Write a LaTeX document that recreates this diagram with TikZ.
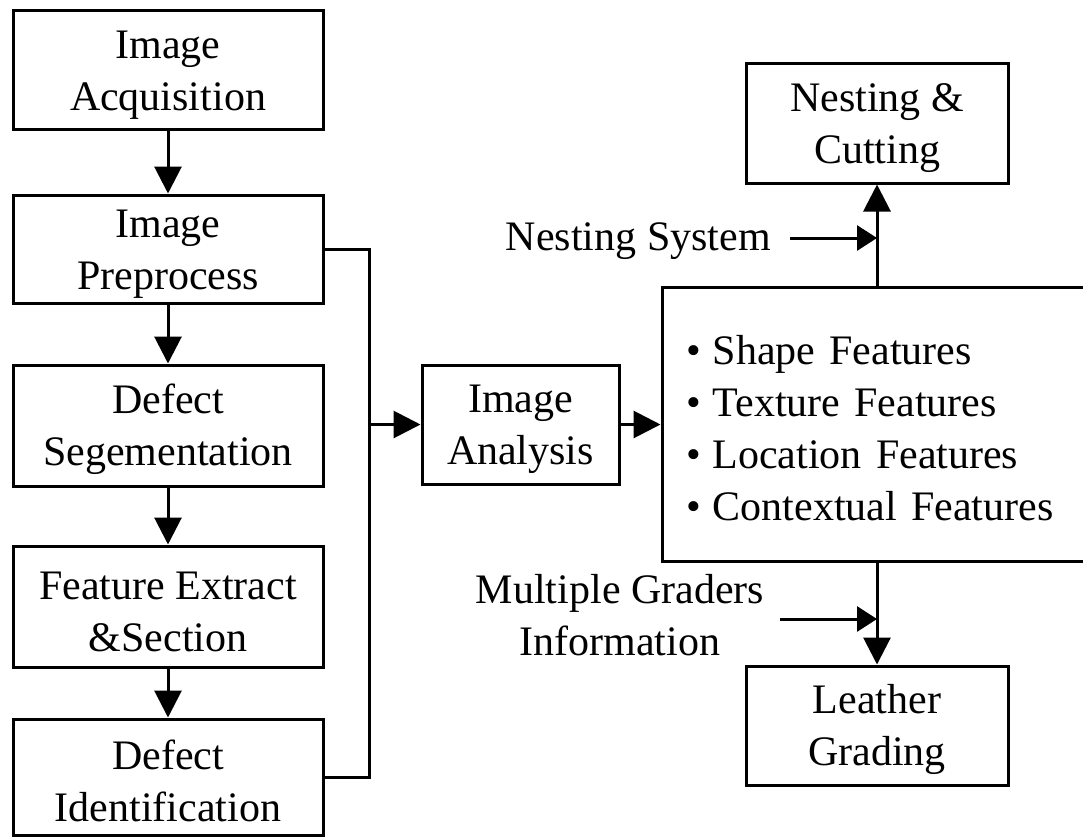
\documentclass[tikz,border=0pt]{standalone}
\usepackage{fontspec}
\setmainfont{Liberation Serif}
\usetikzlibrary{arrows.meta}
\newcommand{\uplift}{\rule{0pt}{38pt}}
\begin{document}
\begin{tikzpicture}[x=1pt,y=-1pt,
  box/.style={draw,line width=3pt,inner sep=0pt,align=center,
    font=\fontsize{42}{52}\selectfont},
  lbl/.style={inner sep=0pt,align=center,font=\fontsize{42}{52}\selectfont},
  conn/.style={line width=3pt,-{Triangle[length=27pt,width=27pt]}},
  side/.style={line width=3pt,-{Triangle[length=20pt,width=25pt]}},
  plain/.style={line width=3pt}]
\useasboundingbox (0,0) rectangle (1083,838);
% left column
\node[box,minimum width=310pt,minimum height=119pt] (acq) at (168,69.5) {\uplift Image\\Acquisition};
\node[box,minimum width=310pt,minimum height=108pt] (pre) at (168,249) {\uplift Image\\Preprocess};
\node[box,minimum width=310pt,minimum height=121pt] (seg) at (168,425.5) {\uplift Defect\\Segementation};
\node[box,minimum width=310pt,minimum height=121pt] (fea) at (168,606.5) {\uplift Feature Extract\\\&Section};
\node[box,minimum width=310pt,minimum height=116pt] (ide) at (168,777) {\uplift Defect\\Identification};
\draw[conn] (acq) -- (pre);
\draw[conn] (pre) -- (seg);
\draw[conn] (seg) -- (fea);
\draw[conn] (fea) -- (ide);
% bus
\coordinate (bt) at (369,249);
\coordinate (bb) at (369,777);
\coordinate (bm) at (369,424.5);
\draw[plain] (pre.east) -- (bt) -- (bb) -- (ide.east);
% analysis
\node[box,minimum width=197pt,minimum height=119pt] (ana) at (520.5,424.5) {\uplift Image\\Analysis};
\draw[conn] (bm) -- (ana.west);
% features
\node[box,minimum width=430pt,minimum height=274pt,align=left,text width=382pt,inner xsep=24pt] (feat) at (877,424)
  {\uplift\textbullet\hspace{12pt}Shape Features\\\textbullet\hspace{12pt}Texture Features\\\textbullet\hspace{12pt}Location Features\\\textbullet\hspace{12pt}Contextual Features};
\draw[conn] (ana.east) -- (ana.east -| feat.west);
% nesting
\node[box,minimum width=262pt,minimum height=120pt] (nc) at (877,123) {\uplift Nesting \&\\Cutting};
\draw[conn] (nc.south |- feat.north) -- (nc.south);
\node[lbl,anchor=base east] (ns) at (771,250) {Nesting System};
\coordinate (nsin) at (877,238);
\coordinate (nsout) at (790,238);
\draw[side] (nsout) -- (nsin);
% grading
\node[box,minimum width=262pt,minimum height=119pt] (lg) at (877,725.5) {\uplift Leather\\Grading};
\draw[conn] (lg.north |- feat.south) -- (lg.north);
\node[lbl] (mg) at (620,614.7) {Multiple Graders\\Information};
\coordinate (mgin) at (877,619);
\coordinate (mgout) at (780,619);
\draw[side] (mgout) -- (mgin);
\end{tikzpicture}
\end{document}
